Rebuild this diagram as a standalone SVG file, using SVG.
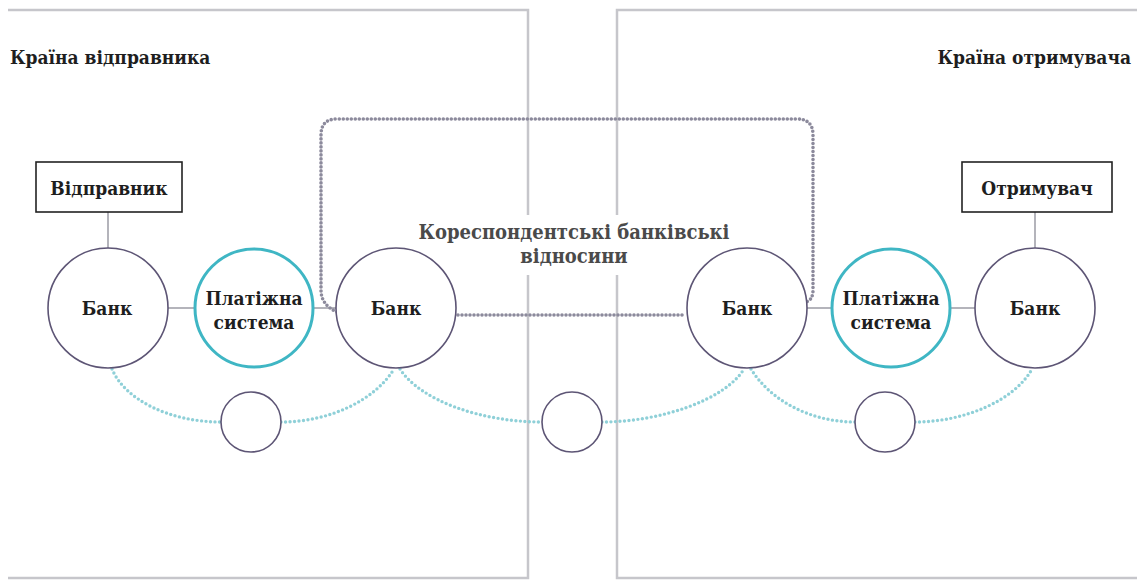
<svg xmlns="http://www.w3.org/2000/svg" width="1137" height="583" viewBox="0 0 1137 583">
<style>
.panel{fill:none;stroke:#c6c6cb;stroke-width:2.5}
.t{font-family:"DejaVu Serif",serif;font-weight:bold;fill:#1e1e1e}
.c{font-family:"DejaVu Serif Condensed","DejaVu Serif",serif}
.bank{fill:#fff;stroke:#5d5575;stroke-width:1.6}
.pay{fill:#fff;stroke:#3fb6c4;stroke-width:3}
.small{fill:#fff;stroke:#5d5575;stroke-width:1.6}
.solid{fill:none;stroke:#b4b4bb;stroke-width:2}
.dots{fill:none;stroke:#8c8a9c;stroke-width:3.6;stroke-linecap:round;stroke-dasharray:0 4}
.tdots{fill:none;stroke:#8fd0d8;stroke-width:3.4;stroke-linecap:round;stroke-dasharray:0 4.5}
.box{fill:#fff;stroke:#222;stroke-width:1.6}
</style>
<rect width="1137" height="583" fill="#fff"/>
<g id="panels">
<path class="panel" d="M8 10 H528 V578 H8"/>
<path class="panel" d="M1137 10 H617 V578 H1137"/>
</g>
<text class="t c" x="10" y="64" font-size="19">Країна відправника</text>
<text class="t c" x="1131" y="64" font-size="19" text-anchor="end">Країна отримувача</text>
<g id="connectors">
<line class="solid" x1="108" y1="212" x2="108" y2="248"/>
<line class="solid" x1="168" y1="308" x2="194" y2="308"/>
<line class="solid" x1="314" y1="308" x2="336" y2="308"/>
<line class="solid" x1="807" y1="308" x2="831" y2="308"/>
<line class="solid" x1="951" y1="308" x2="975" y2="308"/>
<line class="solid" x1="1035" y1="212" x2="1035" y2="248"/>
<path class="dots" d="M337 312 Q321 305 321 290 V135 Q321 119 337 119 H797 Q813 119 813 135 V290 Q813 300 806 302"/>
<line class="dots" x1="458" y1="315" x2="686" y2="315"/>
<path class="tdots" d="M112 369 C125 400 170 422 221 422"/>
<path class="tdots" d="M281 422 C330 422 375 400 394 369"/>
<path class="tdots" d="M400 369 C420 400 480 422 542 422"/>
<path class="tdots" d="M602 422 C660 422 725 400 744 369"/>
<path class="tdots" d="M751 369 C770 400 810 422 855 422"/>
<path class="tdots" d="M915 422 C965 422 1015 400 1032 369"/>
</g>
<g id="label">
<rect x="412" y="215" width="326" height="60" fill="#fff"/>
<text class="t c" x="574" y="239" font-size="20" text-anchor="middle" style="fill:#4a4a4a">Кореспондентські банківські</text>
<text class="t c" x="574" y="263" font-size="20" text-anchor="middle" style="fill:#4a4a4a">відносини</text>
</g>
<g id="sender">
<rect class="box" x="36" y="162" width="146" height="50"/>
<text class="t c" x="109" y="195" font-size="19" text-anchor="middle">Відправник</text>
</g>
<g id="bank1">
<circle class="bank" cx="108" cy="308" r="60"/>
<text class="t c" x="107" y="315" font-size="19" text-anchor="middle">Банк</text>
</g>
<g id="pay1">
<circle class="pay" cx="254" cy="308" r="59"/>
<text class="t c" x="254" y="305" font-size="19" text-anchor="middle">Платіжна</text>
<text class="t c" x="254" y="329" font-size="19" text-anchor="middle">система</text>
</g>
<g id="bank2">
<circle class="bank" cx="396" cy="308" r="60"/>
<text class="t c" x="396" y="315" font-size="19" text-anchor="middle">Банк</text>
</g>
<g id="bank3">
<circle class="bank" cx="747" cy="308" r="60"/>
<text class="t c" x="747" y="315" font-size="19" text-anchor="middle">Банк</text>
</g>
<g id="pay2">
<circle class="pay" cx="891" cy="308" r="59"/>
<text class="t c" x="891" y="305" font-size="19" text-anchor="middle">Платіжна</text>
<text class="t c" x="891" y="329" font-size="19" text-anchor="middle">система</text>
</g>
<g id="bank4">
<circle class="bank" cx="1035" cy="308" r="60"/>
<text class="t c" x="1035" y="315" font-size="19" text-anchor="middle">Банк</text>
</g>
<g id="receiver">
<rect class="box" x="962" y="162" width="150" height="50"/>
<text class="t c" x="1037" y="195" font-size="19" text-anchor="middle">Отримувач</text>
</g>
<g id="small1"><circle class="small" cx="251" cy="422" r="30"/></g>
<g id="small2"><circle class="small" cx="572" cy="422" r="30"/></g>
<g id="small3"><circle class="small" cx="885" cy="422" r="30"/></g>
</svg>
